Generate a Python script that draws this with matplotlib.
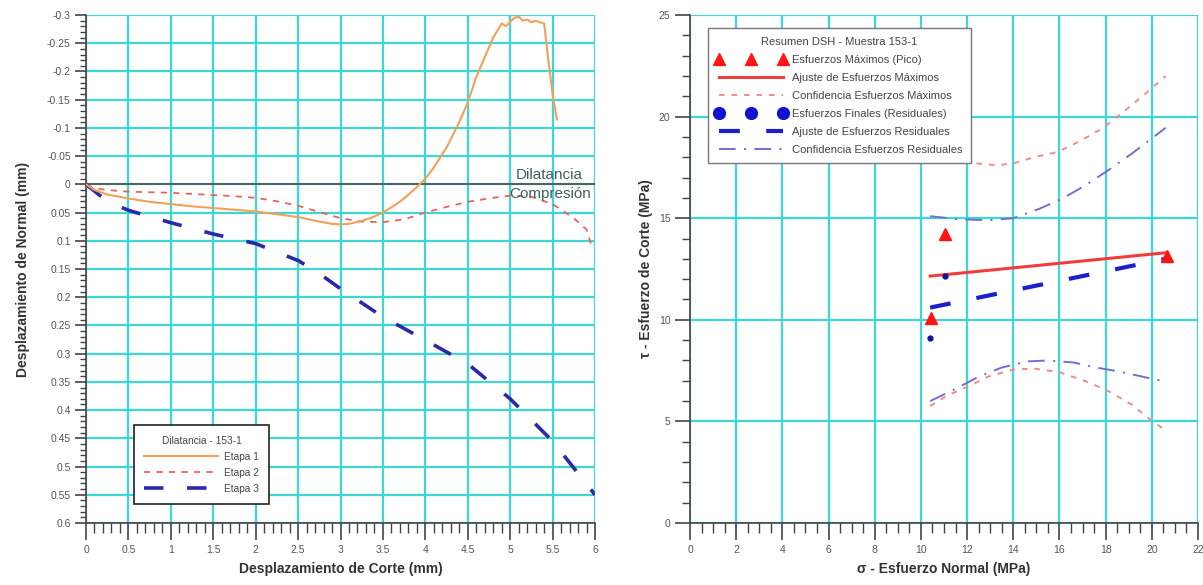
import matplotlib
matplotlib.use("Agg")
import matplotlib.pyplot as plt
from matplotlib.lines import Line2D
from matplotlib.ticker import MultipleLocator, FuncFormatter

plt.rcParams['font.family'] = ['Liberation Sans', 'DejaVu Sans']
plt.rcParams['lines.scale_dashes'] = False

# ---- Dilatancia: desplazamiento normal vs. desplazamiento de corte ----
etapa1_x = [0, 0.1, 0.25, 0.5, 0.75, 1.0, 1.25, 1.5, 1.75, 2.0, 2.25, 2.5, 2.75, 2.9,
            3.0, 3.1, 3.25, 3.4, 3.5, 3.65, 3.75, 3.9, 4.0, 4.1, 4.25, 4.4, 4.5, 4.6,
            4.7, 4.8, 4.9, 4.95, 5.0, 5.05, 5.1, 5.15, 5.2, 5.25, 5.3, 5.35, 5.4,
            5.45, 5.5, 5.55]
etapa1_y = [0.0, 0.01, 0.018, 0.025, 0.031, 0.035, 0.039, 0.042, 0.045, 0.048, 0.053,
            0.058, 0.066, 0.070, 0.071, 0.070, 0.065, 0.057, 0.050, 0.036, 0.025,
            0.005, -0.01, -0.03, -0.065, -0.11, -0.145, -0.19, -0.225, -0.26, -0.285,
            -0.28, -0.288, -0.295, -0.297, -0.29, -0.292, -0.287, -0.29, -0.287,
            -0.285, -0.22, -0.16, -0.115]

etapa2_x = [0, 0.25, 0.5, 0.75, 1.0, 1.25, 1.5, 1.75, 2.0, 2.25, 2.5, 2.75, 3.0, 3.25,
            3.5, 3.75, 4.0, 4.25, 4.5, 4.75, 5.0, 5.25, 5.5, 5.75, 5.9, 5.95]
etapa2_y = [0.005, 0.010, 0.013, 0.014, 0.015, 0.017, 0.019, 0.021, 0.024, 0.030,
            0.038, 0.049, 0.060, 0.066, 0.067, 0.062, 0.050, 0.040, 0.031, 0.025,
            0.020, 0.022, 0.035, 0.060, 0.080, 0.105]

etapa3_x = [0, 0.25, 0.5, 1.0, 1.5, 2.0, 2.5, 2.75, 3.0, 3.5, 4.0, 4.5, 5.0, 5.5, 6.0]
etapa3_y = [0.0, 0.03, 0.046, 0.068, 0.088, 0.105, 0.135, 0.158, 0.185, 0.235, 0.276,
            0.318, 0.38, 0.455, 0.55]

# ---- Resumen DSH: esfuerzo de corte vs. esfuerzo normal ----
pico_sigma = [10.45, 11.05, 20.65]
pico_tau = [10.1, 14.2, 13.15]
resid_sigma = [10.4, 11.05, 20.6]
resid_tau = [9.1, 12.15, 13.0]

ajuste_max_sigma = [10.4, 20.6]
ajuste_max_tau = [12.15, 13.3]
ajuste_res_sigma = [10.4, 20.6]
ajuste_res_tau = [10.6, 13.0]

conf_max_sup_sigma = [10.4, 11.5, 12.4, 13.3, 14.0, 14.9, 15.9, 16.9, 17.9, 18.9, 19.9, 20.6]
conf_max_sup_tau = [18.6, 18.0, 17.7, 17.6, 17.7, 18.0, 18.25, 18.8, 19.45, 20.35, 21.3, 22.0]
conf_max_inf_sigma = [10.4, 11.1, 12.1, 12.9, 14.0, 14.9, 16.0, 17.1, 18.1, 19.1, 19.9, 20.6]
conf_max_inf_tau = [5.75, 6.25, 6.75, 7.2, 7.55, 7.6, 7.42, 7.0, 6.5, 5.85, 5.12, 4.55]
conf_res_sup_sigma = [10.4, 11.6, 12.9, 14.0, 15.1, 16.1, 17.1, 18.1, 19.1, 20.6]
conf_res_sup_tau = [15.1, 14.95, 14.9, 15.0, 15.45, 15.95, 16.6, 17.35, 18.15, 19.45]
conf_res_inf_sigma = [10.4, 11.5, 12.5, 13.5, 14.6, 15.5, 16.6, 17.6, 18.6, 19.6, 20.6]
conf_res_inf_tau = [6.0, 6.6, 7.2, 7.65, 7.95, 8.0, 7.9, 7.65, 7.45, 7.2, 6.95]

GRID = '#3ED8D4'
SPINE = '#444444'
TICKC = '#555555'
LABELC = '#333333'

fig = plt.figure(figsize=(12.03, 5.85), dpi=100)
W, H = 1203.0, 585.0
ax1 = fig.add_axes([86 / W, (H - 523) / H, 509 / W, 508 / H])
ax2 = fig.add_axes([690 / W, (H - 523) / H, 508 / W, 508 / H])


def style_axes(ax, ymaj, ymin):
    for s in ('top', 'right'):
        ax.spines[s].set_visible(False)
    for s in ('left', 'bottom'):
        ax.spines[s].set_color(SPINE)
        ax.spines[s].set_linewidth(1.2)
    ax.tick_params(which='both', direction='out', color=SPINE, labelsize=7.5,
                   labelcolor=TICKC)
    ax.tick_params(axis='x', which='major', length=12, width=1.2, pad=4)
    ax.tick_params(axis='x', which='minor', length=7, width=1.0)
    ax.tick_params(axis='y', which='major', length=ymaj, width=1.2, pad=3)
    ax.tick_params(axis='y', which='minor', length=ymin, width=1.0)
    ax.grid(True, which='major', color=GRID, linewidth=1.6, zorder=0)
    ax.set_axisbelow(True)


fmt = FuncFormatter(lambda v, p: ('%g' % round(v, 4)) if abs(v) > 1e-9 else '0')

# Left panel
style_axes(ax1, 8, 4.3)
ax1.set_xlim(0, 6)
ax1.set_ylim(0.6, -0.3)
ax1.xaxis.set_major_locator(MultipleLocator(0.5))
ax1.xaxis.set_minor_locator(MultipleLocator(0.1))
ax1.yaxis.set_major_locator(MultipleLocator(0.05))
ax1.yaxis.set_minor_locator(MultipleLocator(0.01))
ax1.xaxis.set_major_formatter(fmt)
ax1.yaxis.set_major_formatter(fmt)
ax1.axhline(0, color='#555555', linewidth=1.3, zorder=2)

ax1.plot(etapa1_x, etapa1_y, color='#F2A05A', linewidth=1.5, zorder=4, label='Etapa 1')
ax1.plot(etapa2_x, etapa2_y, color='#E8635E', linewidth=1.3, dashes=(4.5, 4.5),
         zorder=3, label='Etapa 2')
ax1.plot(etapa3_x, etapa3_y, color='#2A2AA8', linewidth=2.6, dashes=(14, 17),
         zorder=3, label='Etapa 3')

ax1.text(5.86, -0.005, 'Dilatancia', ha='right', va='bottom', fontsize=11,
         color='#3F5E5E', zorder=5)
ax1.text(5.95, 0.005, 'Compresión', ha='right', va='top', fontsize=11,
         color='#3F5E5E', zorder=5)

leg1 = ax1.legend(loc='lower left', bbox_to_anchor=(0.0845, 0.0276), fontsize=7.3,
                  title='Dilatancia - 153-1', title_fontsize=7.3, handlelength=7.3,
                  frameon=True, fancybox=False, borderpad=1.0, labelspacing=0.6,
                  handletextpad=0.6)
leg1.get_frame().set_edgecolor('#222222')
leg1.get_frame().set_linewidth(1.2)
leg1.get_frame().set_alpha(1)
for t in leg1.get_texts():
    t.set_color('#444444')
leg1.get_title().set_color('#444444')
leg1.set_zorder(10)

ax1.set_xlabel('Desplazamiento de Corte (mm)', fontsize=10, fontweight='bold',
               color=LABELC, labelpad=5)
ax1.set_ylabel('Desplazamiento de Normal (mm)', fontsize=10, fontweight='bold',
               color=LABELC, labelpad=12)

# Right panel
style_axes(ax2, 11, 6)
ax2.set_xlim(0, 22)
ax2.set_ylim(0, 25)
ax2.xaxis.set_major_locator(MultipleLocator(2))
ax2.xaxis.set_minor_locator(MultipleLocator(0.5))
ax2.yaxis.set_major_locator(MultipleLocator(5))
ax2.yaxis.set_minor_locator(MultipleLocator(1))
ax2.xaxis.set_major_formatter(fmt)
ax2.yaxis.set_major_formatter(fmt)

c_conf_max = '#F08C8C'
c_conf_res = '#7070D0'
ax2.plot(conf_max_sup_sigma, conf_max_sup_tau, color=c_conf_max, linewidth=1.4,
         dashes=(4, 5), zorder=3)
ax2.plot(conf_max_inf_sigma, conf_max_inf_tau, color=c_conf_max, linewidth=1.4,
         dashes=(4, 5), zorder=3)
ax2.plot(conf_res_sup_sigma, conf_res_sup_tau, color=c_conf_res, linewidth=1.4,
         dashes=(12, 6, 1.5, 6), zorder=3)
ax2.plot(conf_res_inf_sigma, conf_res_inf_tau, color=c_conf_res, linewidth=1.4,
         dashes=(12, 6, 1.5, 6), zorder=3)
ax2.plot(ajuste_max_sigma, ajuste_max_tau, color='#F03C3C', linewidth=2.2, zorder=4)
ax2.plot(ajuste_res_sigma, ajuste_res_tau, color='#1E1ECC', linewidth=3.0,
         dashes=(15, 19), zorder=4)
ax2.plot(resid_sigma, resid_tau, linestyle='none', marker='o', markersize=3.5,
         color='#1010A0', zorder=5)
ax2.plot(pico_sigma, pico_tau, linestyle='none', marker='^', markersize=9,
         color='#FF1414', zorder=6)

handles = [
    Line2D([], [], linestyle='none', marker='^', markersize=8, color='#FF1414'),
    Line2D([], [], color='#F03C3C', linewidth=2.2),
    Line2D([], [], color=c_conf_max, linewidth=1.4, dashes=(4, 5)),
    Line2D([], [], linestyle='none', marker='o', markersize=8.5, color='#1010D0'),
    Line2D([], [], color='#1E1ECC', linewidth=3.0, dashes=(15, 19)),
    Line2D([], [], color=c_conf_res, linewidth=1.4, dashes=(12, 6, 1.5, 6)),
]
labels = ['Esfuerzos Máximos (Pico)', 'Ajuste de Esfuerzos Máximos',
          'Confidencia Esfuerzos Máximos', 'Esfuerzos Finales (Residuales)',
          'Ajuste de Esfuerzos Residuales', 'Confidencia Esfuerzos Residuales']
leg2 = ax2.legend(handles, labels, loc='upper left', bbox_to_anchor=(0.035, 0.974),
                  fontsize=8.0, title='Resumen DSH - Muestra 153-1', title_fontsize=8.0,
                  handlelength=6.3, numpoints=3, frameon=True, fancybox=False,
                  borderpad=0.75, labelspacing=0.72, handletextpad=0.5,
                  borderaxespad=0)
leg2.get_frame().set_edgecolor('#777777')
leg2.get_frame().set_linewidth(1.0)
leg2.get_frame().set_alpha(1)
for t in leg2.get_texts():
    t.set_color('#444444')
leg2.get_title().set_color('#444444')
leg2.set_zorder(10)

ax2.set_xlabel('σ - Esfuerzo Normal (MPa)', fontsize=10, fontweight='bold',
               color=LABELC, labelpad=5)
ax2.set_ylabel('τ - Esfuerzo de Corte (MPa)', fontsize=10, fontweight='bold',
               color=LABELC, labelpad=4)

fig.savefig('out.png', dpi=100, facecolor='white')
